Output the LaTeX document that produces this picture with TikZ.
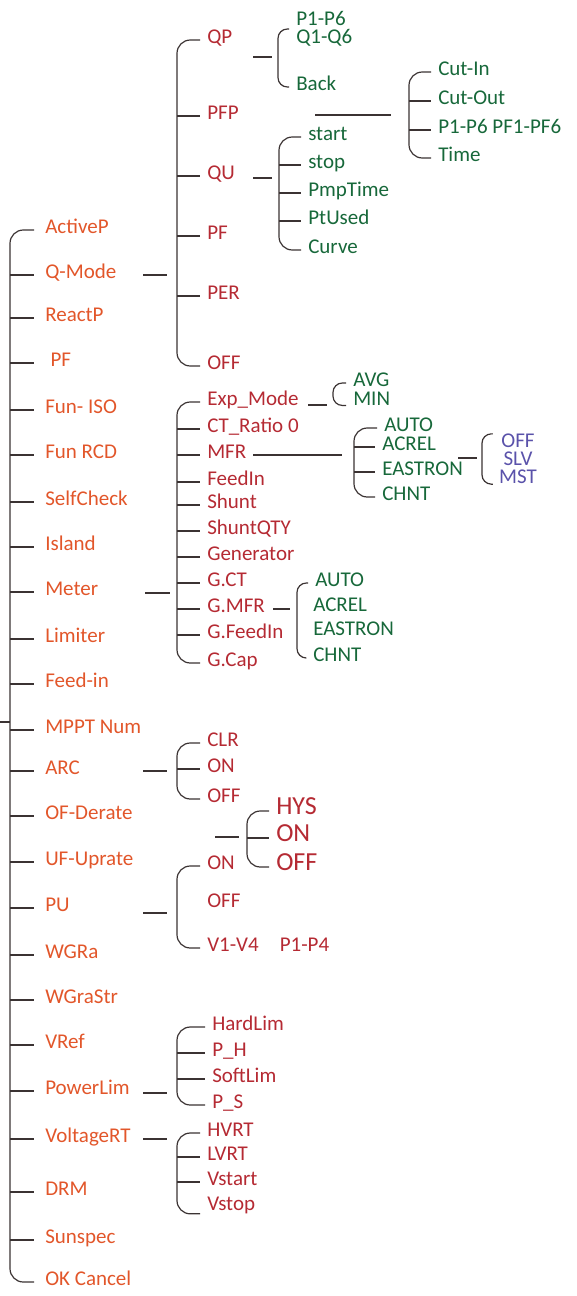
\documentclass[tikz,border=0pt]{standalone}
\usepackage{fontspec}
\setmainfont{Carlito}
\usetikzlibrary{calc}
\definecolor{morange}{HTML}{E2562A}
\definecolor{mred}{HTML}{B52A33}
\definecolor{mgreen}{HTML}{17683A}
\definecolor{mpurple}{HTML}{5A52AA}
\definecolor{mline}{HTML}{3B3333}

\tikzset{
  link/.style={draw=mline, line width=0.9pt},
  brace/.style={link, rounded corners=10pt},
  smallbrace/.style={link, rounded corners=7pt},
  item/.style={anchor=mid west, inner xsep=5.25pt, inner ysep=0pt,
    font=\fontsize{15.75}{18}\selectfont},
  stack/.style={item, anchor=west, align=left,
    font=\fontsize{15.75}{13.5}\selectfont},
  lvlone/.style={item, text=morange, inner xsep=8.25pt},
  lvltwo/.style={item, text=mred},
  lvlbig/.style={item, text=mred, font=\fontsize{19.5}{22}\selectfont},
  lvlthree/.style={item, text=mgreen},
  lvlfour/.style={stack, text=mpurple, anchor=center, align=center, inner xsep=4.5pt}
}

\begin{document}
\begin{tikzpicture}[x=0.75pt, y=-0.75pt]
  \useasboundingbox (0,-4) rectangle (577,1292);

  %% main menu
  \coordinate (root) at (10,718);
  \foreach \yy/\txt [count=\i] in {226/ActiveP, 271/Q-Mode, 314/ReactP,
      359/{\kern4pt PF}, 406/Fun- ISO, 451/Fun RCD, 498/SelfCheck, 543/Island,
      588/Meter, 635/Limiter, 680/Feed-in, 726/MPPT Num, 767/ARC, 812/OF-Derate,
      858/UF-Uprate, 904/PU, 951/WGRa, 996/WGraStr, 1041/VRef, 1087/PowerLim,
      1135/VoltageRT, 1188/DRM, 1236/Sunspec, 1278/OK Cancel}{
    \node[lvlone] (m\i) at (34,\yy) {\txt};
  }
  \draw[brace] (m1.mid west) -| (root |- m24.mid west) -- (m24.mid west);
  \foreach \i in {2,...,23}
    \draw[link] (root |- m\i.mid west) -- (m\i.mid west);
  \draw[link] ($(root)+(-10,0)$) -- (root);

  %% Q-Mode
  \coordinate (qmspine) at (177,271);
  \foreach \yy/\txt [count=\i] in {36/QP, 112/PFP, 172/QU, 232/PF, 292/PER, 362/OFF}
    \node[lvltwo] (q\i) at (200,\yy) {\txt};
  \draw[brace] (q1.mid west) -| (qmspine |- q6.mid west) -- (q6.mid west);
  \foreach \i in {2,...,5}
    \draw[link] (qmspine |- q\i.mid west) -- (q\i.mid west);
  \draw[link] ($(qmspine)+(-34,0)$) -- ($(qmspine)+(-10,0)$);

  % QP
  \coordinate (qpspine) at (278,53);
  \node[stack, text=mgreen] (qp1) at (289,25) {P1-P6\\Q1-Q6};
  \node[lvlthree] (qp2) at (289,83) {Back};
  \draw[smallbrace] (qp1.west) -| (qpspine |- qp2.mid west) -- (qp2.mid west);
  \draw[link] ($(qpspine)+(-25,0)$) -- ($(qpspine)+(-6,0)$);

  % PFP
  \coordinate (pfspine) at (409,111);
  \foreach \yy/\txt [count=\i] in {68/Cut-In, 97/Cut-Out, 126/P1-P6 PF1-PF6, 154/Time}
    \node[lvlthree] (pf\i) at (431,\yy) {\txt};
  \draw[brace] (pf1.mid west) -| (pfspine |- pf4.mid west) -- (pf4.mid west);
  \foreach \i in {2,3}
    \draw[link] (pfspine |- pf\i.mid west) -- (pf\i.mid west);
  \draw[link] ($(pfspine)+(-94,0)$) -- ($(pfspine)+(-18,0)$);

  % QU
  \coordinate (quspine) at (279,174);
  \foreach \yy/\txt [count=\i] in {133/start, 161/stop, 189/PmpTime, 217/PtUsed, 246/Curve}
    \node[lvlthree] (qu\i) at (301,\yy) {\txt};
  \draw[brace] (qu1.mid west) -| (quspine |- qu5.mid west) -- (qu5.mid west);
  \foreach \i in {2,...,4}
    \draw[link] (quspine |- qu\i.mid west) -- (qu\i.mid west);
  \draw[link] ($(quspine)+(-26,0)$) -- ($(quspine)+(-7,0)$);

  %% Meter
  \coordinate (mtspine) at (177,589);
  \foreach \yy/\txt [count=\i] in {398/Exp\_Mode, 425/CT\_Ratio 0, 451/MFR, 478/FeedIn,
      501/Shunt, 527/ShuntQTY, 553/Generator, 579/G.CT, 605/G.MFR, 631/G.FeedIn, 659/G.Cap}
    \node[lvltwo] (mt\i) at (200,\yy) {\txt};
  \draw[brace] (mt1.mid west) -| (mtspine |- mt11.mid west) -- (mt11.mid west);
  \foreach \i in {2,...,10}
    \draw[link] (mtspine |- mt\i.mid west) -- (mt\i.mid west);
  \draw[link] ($(mtspine)+(-32,0)$) -- ($(mtspine)+(-7,0)$);

  % Exp_Mode
  \coordinate (exspine) at (333,401);
  \node[lvlthree] (ex1) at (346,379) {AVG};
  \node[lvlthree] (ex2) at (346,398) {MIN};
  \draw[smallbrace] (ex1.mid west) -| (exspine |- ex2.south west) -- (ex2.south west);
  \draw[link] ($(exspine)+(-25,0)$) -- ($(exspine)+(-6,0)$);

  % MFR
  \coordinate (mfspine) at (354,451);
  \node[lvlthree] (mf1) at (377,424) {AUTO};
  \foreach \yy/\txt [count=\i from 2] in {443/ACREL, 468/EASTRON, 493/CHNT}
    \node[lvlthree] (mf\i) at (375,\yy) {\txt};
  \draw[brace] (mf1.mid west) -| (mfspine |- mf4.mid west) -- (mf4.mid west);
  \foreach \i in {2,3}
    \draw[link] (mfspine |- mf\i.mid west) -- (mf\i.mid west);
  \draw[link] ($(mfspine)+(-101,0)$) -- ($(mfspine)+(-12,0)$);

  % ACREL / EASTRON
  \coordinate (acspine) at (482,454);
  \node[lvlfour] (ac) at (518,455) {OFF\\SLV\\MST};
  \draw[smallbrace] (ac.north west) -| (acspine |- ac.south west) -- (ac.south west);
  \draw[link] ($(acspine)+(-24,0)$) -- ($(acspine)+(-5,0)$);

  % G.MFR
  \coordinate (gmspine) at (297,605);
  \node[lvlthree] (gm1) at (308,579) {AUTO};
  \foreach \yy/\txt [count=\i from 2] in {604/ACREL, 628/EASTRON, 654/CHNT}
    \node[lvlthree] (gm\i) at (306,\yy) {\txt};
  \draw[smallbrace] (gm1.mid west) -| (gmspine |- gm4.mid west) -- (gm4.mid west);
  \draw[link] ($(gmspine)+(-24,0)$) -- ($(gmspine)+(-7,0)$);

  %% ARC
  \coordinate (arspine) at (177,767);
  \foreach \yy/\txt [count=\i] in {739/CLR, 765/ON, 795/OFF}
    \node[lvltwo] (ar\i) at (200,\yy) {\txt};
  \draw[brace] (ar1.mid west) -| (arspine |- ar3.mid west) -- (ar3.mid west);
  \draw[link] (arspine |- ar2.mid west) -- (ar2.mid west);
  \draw[link] ($(arspine)+(-34,0)$) -- ($(arspine)+(-10,0)$);

  %% OF-Derate
  \coordinate (hyspine) at (247,833);
  \foreach \yy/\txt [count=\i] in {807/HYS, 834/ON, 863/OFF}
    \node[lvlbig] (hy\i) at (269,\yy) {\txt};
  \draw[brace] (hy1.mid west) -| (hyspine |- hy3.mid west) -- (hy3.mid west);
  \draw[link] (hyspine |- hy2.mid west) -- (hy2.mid west);
  \draw[link] ($(hyspine)+(-32,0)$) -- ($(hyspine)+(-8,0)$);

  %% PU
  \coordinate (puspine) at (177,909);
  \foreach \yy/\txt [count=\i] in {862/ON, 900/OFF, 944/V1-V4\quad P1-P4}
    \node[lvltwo] (pu\i) at (200,\yy) {\txt};
  \draw[brace] (pu1.mid west) -| (puspine |- pu3.mid west) -- (pu3.mid west);
  \draw[link] ($(puspine)+(-34,0)$) -- ($(puspine)+(-10,0)$);

  %% PowerLim
  \coordinate (plspine) at (177,1089);
  \foreach \yy/\txt [count=\i] in {1023/HardLim, 1049/P\_H, 1075/SoftLim, 1101/P\_S}
    \node[lvltwo] (pl\i) at (205,\yy) {\txt};
  \draw[brace] (pl1.mid west) -| (plspine |- pl4.mid west) -- (pl4.mid west);
  \foreach \i in {2,3}
    \draw[link] (plspine |- pl\i.mid west) -- (pl\i.mid west);
  \draw[link] ($(plspine)+(-34,0)$) -- ($(plspine)+(-10,0)$);

  %% VoltageRT
  \coordinate (vrspine) at (177,1135);
  \foreach \yy/\txt [count=\i] in {1129/HVRT, 1153/LVRT, 1178/Vstart, 1203/Vstop}
    \node[lvltwo] (vr\i) at (200,\yy) {\txt};
  \draw[brace] (vr1.mid west) -| (vrspine |- vr4.south west) -- (vr4.south west);
  \foreach \i in {2,3}
    \draw[link] (vrspine |- vr\i.mid west) -- (vr\i.mid west);
  \draw[link] ($(vrspine)+(-34,0)$) -- ($(vrspine)+(-10,0)$);

\end{tikzpicture}
\end{document}
